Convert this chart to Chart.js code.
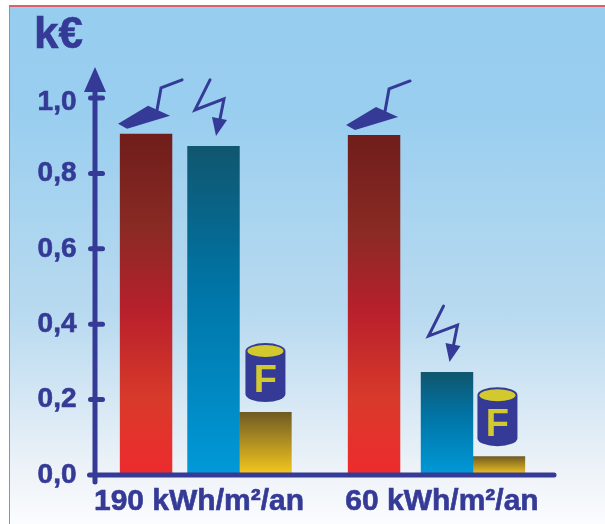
<!DOCTYPE html>
<html>
<head>
<meta charset="utf-8">
<script src="https://cdn.jsdelivr.net/npm/chart.js@4"></script>
<style>
  html, body { margin: 0; padding: 0; background: #fff; overflow: hidden; }
  #frame {
    position: absolute; left: 9px; top: 5px; right: 0; bottom: 0;
    border-left: 1px solid #ef6b73; border-top: 2px solid #d9606c;
    background: linear-gradient(#97cdef 0%, #99ceef 20%, #b9daf0 60%, #eef3f8 90%, #fbfcfe 100%);
  }
  canvas { position: absolute; left: 0; top: 0; }
</style>
</head>
<body>
<div id="frame"></div>
<canvas id="chart" width="605" height="524"></canvas>
<script>
const categories = ['190 kWh/m²/an', '60 kWh/m²/an'];
const buildingCost = [0.905, 0.902];
const electricityCost = [0.873, 0.273];
const fuelCost = [0.167, 0.05];
const yTickLabels = ['0,0', '0,2', '0,4', '0,6', '0,8', '1,0'];

const navy = '#343a96';
const yellow = '#d2c92e';
const font = '"Liberation Sans", Arial, sans-serif';

// bars are not evenly spaced in the original, so shift them off the group slots
const barShift = [[7, -8], [14.5, 5], [6.5, -3]];
const axisX = 95;
const axisEnd = 554;

function barGradient(stops) {
  return c => {
    const y = c.chart.scales.y;
    const top = y ? y.getPixelForValue(c.raw) : NaN;
    const bottom = y ? y.getPixelForValue(0) : NaN;
    // options also get resolved before the scales have been laid out
    if (c.type !== 'data' || !Number.isFinite(top) || !Number.isFinite(bottom)) return stops[0][1];
    const grad = c.chart.ctx.createLinearGradient(0, top, 0, bottom);
    stops.forEach(s => grad.addColorStop(s[0], s[1]));
    return grad;
  };
}

function polygon(ctx, pts) {
  ctx.beginPath();
  pts.forEach((p, i) => i ? ctx.lineTo(p[0], p[1]) : ctx.moveTo(p[0], p[1]));
}

function drawTrowel(ctx, x, y) {
  ctx.save();
  ctx.translate(x, y);
  polygon(ctx, [[-28, -10], [-19, -5], [24, -18], [2, -28]]);
  ctx.fill();
  polygon(ctx, [[11, -24], [15, -46], [36, -54]]);
  ctx.lineWidth = 3;
  ctx.stroke();
  ctx.restore();
}

function drawBolt(ctx, x, y) {
  ctx.save();
  ctx.translate(x, y);
  polygon(ctx, [[-3.5, -66], [-18.5, -36], [10.5, -47], [6.5, -27]]);
  ctx.lineWidth = 3;
  ctx.stroke();
  polygon(ctx, [[-1.5, -29], [13.5, -26], [2.5, -10]]);
  ctx.fill();
  ctx.restore();
}

function drawBarrel(ctx, x, y) {
  ctx.save();
  ctx.translate(x, y - 10);
  ctx.beginPath();
  ctx.moveTo(-20, -51);
  ctx.lineTo(-20, -8);
  ctx.ellipse(0, -8, 20, 8, 0, Math.PI, 0, true);
  ctx.lineTo(20, -51);
  ctx.ellipse(0, -51, 20, 8, 0, 0, Math.PI, true);
  ctx.fill();
  ctx.fillStyle = yellow;
  ctx.beginPath();
  ctx.ellipse(0, -51, 18, 6, 0, 0, Math.PI * 2);
  ctx.fill();
  ctx.font = 'bold 38px ' + font;
  ctx.textAlign = 'center';
  ctx.textBaseline = 'alphabetic';
  ctx.fillText('F', 0, -10);
  ctx.restore();
}

const decorations = {
  id: 'decorations',
  afterDatasetsUpdate(chart) {
    chart.data.datasets.forEach((ds, i) => {
      chart.getDatasetMeta(i).data.forEach((bar, j) => { bar.x += barShift[i][j]; });
    });
  },
  afterDatasetsDraw(chart) {
    const { ctx, scales } = chart;
    const y = scales.y;
    const zero = y.getPixelForValue(0);
    ctx.save();
    ctx.strokeStyle = navy;
    ctx.fillStyle = navy;
    ctx.lineCap = 'round';

    // axes
    ctx.lineWidth = 5;
    ctx.beginPath();
    ctx.moveTo(axisX, zero + 7);
    ctx.lineTo(axisX, y.getPixelForValue(1) - 10);
    ctx.moveTo(axisX - 5.5, zero);
    ctx.lineTo(axisEnd, zero);
    ctx.stroke();
    polygon(ctx, [[axisX, 67], [axisX + 11, 92], [axisX - 11, 92]]);
    ctx.fill();

    // tick marks
    y.ticks.forEach(t => {
      if (t.value === 0) return;
      const py = y.getPixelForValue(t.value);
      ctx.beginPath();
      ctx.moveTo(axisX - 4.5, py);
      ctx.lineTo(axisX + 7.5, py);
      ctx.stroke();
    });

    chart.getDatasetMeta(0).data.forEach(b => drawTrowel(ctx, b.x, b.y));
    chart.getDatasetMeta(1).data.forEach(b => drawBolt(ctx, b.x, b.y));
    chart.getDatasetMeta(2).data.forEach((b, j) => drawBarrel(ctx, b.x - j * 1.5, b.y));

    ctx.font = 'bold 44px ' + font;
    ctx.textAlign = 'left';
    ctx.textBaseline = 'alphabetic';
    ctx.lineWidth = 0.6;
    ctx.fillText('k€', 34, 48);
    ctx.strokeText('k€', 34, 48);
    ctx.restore();
  }
};

new Chart(document.getElementById('chart'), {
  type: 'bar',
  plugins: [decorations],
  data: {
    labels: categories,
    datasets: [
      {
        label: 'Bâti',
        data: buildingCost,
        backgroundColor: barGradient([[0, '#6f1d1b'], [0.28, '#8a2a24'], [0.52, '#b8202c'], [0.78, '#d93a2a'], [1, '#ee2a2e']])
      },
      {
        label: 'Électricité',
        data: electricityCost,
        backgroundColor: barGradient([[0, '#10566e'], [0.42, '#0074a5'], [1, '#0099d8']])
      },
      {
        label: 'Fioul',
        data: fuelCost,
        backgroundColor: barGradient([[0, '#6e5a24'], [1, '#f7c91e']])
      }
    ]
  },
  options: {
    responsive: false,
    animation: false,
    events: [],
    categoryPercentage: 0.74,
    barPercentage: 0.875,
    layout: { padding: { top: 98, right: 41.5 } },
    plugins: { legend: { display: false }, tooltip: { enabled: false } },
    scales: {
      x: {
        grid: { display: false, drawTicks: false },
        border: { display: false },
        afterFit: s => { s.height = 49; },
        ticks: {
          color: navy,
          padding: 9,
          maxRotation: 0,
          textStrokeColor: navy,
          textStrokeWidth: 0.6,
          font: { family: font, weight: 'bold', size: 30 }
        }
      },
      y: {
        min: 0,
        max: 1,
        grid: { display: false, drawTicks: false },
        border: { display: false },
        afterFit: s => { s.width = 77.5; },
        ticks: {
          stepSize: 0.2,
          color: navy,
          padding: 1,
          textStrokeColor: navy,
          textStrokeWidth: 0.6,
          font: { family: font, weight: 'bold', size: 28, lineHeight: '8px' },
          // the top label sits under its tick: a blank first line pushes it down
          callback: (v, i) => i === yTickLabels.length - 1 ? ['', yTickLabels[i]] : yTickLabels[i]
        }
      }
    }
  }
});
</script>
</body>
</html>
